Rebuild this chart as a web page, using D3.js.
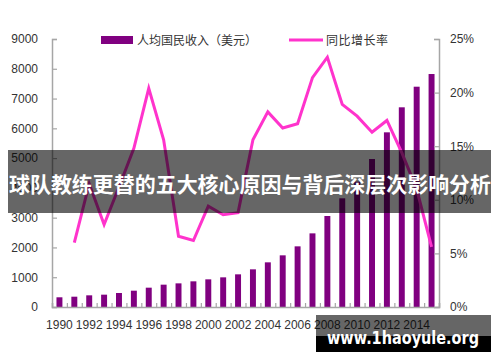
<!DOCTYPE html>
<html>
<head>
<meta charset="utf-8">
<script src="https://cdn.jsdelivr.net/npm/d3@7"></script>
<style>
  body { margin: 0; background: #fff; }
  text { font-family: "Liberation Sans", Arial, sans-serif; }
</style>
</head>
<body>
<div id="chart"></div>
<script>
var width = 500,
    height = 362;

// data
var years = d3.range(1990, 2016);
var income = [326, 346, 392, 414, 470, 548, 649, 750, 794, 862, 929, 996, 1097,
              1265, 1500, 1735, 2037, 2473, 3056, 3650, 4208, 4970, 5866, 6706, 7398, 7824];
// growth rate (%), starts in 1991
var growthYears = d3.range(1991, 2016);
var growth = [6.0, 11.5, 7.7, 11.2, 14.8, 20.4, 15.6, 6.6, 6.2, 9.4, 8.6, 8.8,
              15.6, 18.2, 16.7, 17.1, 21.4, 23.3, 18.9, 17.8, 16.3, 17.4, 14.4, 11.0, 5.6];
var incomeTicks = d3.range(0, 9001, 1000);
var growthTicks = [0, 5, 10, 15, 20, 25];
var yearLabels = d3.range(1990, 2015, 2);

var barColor = "#800080",
    lineColor = "#ff33cc",
    axisColor = "#a6a6a6";

var svg = d3.select("#chart")
      .append("svg")
      .attr("width", width)
      .attr("height", height);

var g = svg.append("g");

var x = d3.scaleBand().domain(years).range([52, 439]).paddingInner(0.6).paddingOuter(0.3);
var yLeft = d3.scaleLinear().domain([0, 9000]).range([307, 39]);
var yRight = d3.scaleLinear().domain([0, 25]).range([307, 39]);
var xEdge = d3.scaleLinear().domain([0, years.length]).range([52, 439]);

// bars
g.selectAll(".bar")
  .data(years)
  .enter().append("rect")
  .attr("class", "bar")
  .attr("x", function(d){ return x(d); })
  .attr("width", x.bandwidth())
  .attr("y", function(d, i){ return yLeft(income[i]); })
  .attr("height", function(d, i){ return yLeft(0) - yLeft(income[i]); })
  .attr("fill", barColor);

// left axis
var leftAxis = g.append("g")
  .attr("transform", "translate(52,0)")
  .call(d3.axisLeft(yLeft).tickValues(incomeTicks).tickSize(-5).tickPadding(14).tickFormat(d3.format("d")));

// right axis
var rightAxis = g.append("g")
  .attr("transform", "translate(439,0)")
  .call(d3.axisRight(yRight).tickValues(growthTicks).tickSize(-5).tickPadding(11).tickFormat(function(d){ return d + "%"; }));

// bottom baseline with year separators
var bottomAxis = g.append("g")
  .attr("transform", "translate(0,307)")
  .call(d3.axisBottom(xEdge).tickValues(d3.range(0, years.length + 1)).tickSize(-4).tickFormat(""));

var labelAxis = g.append("g")
  .attr("transform", "translate(0,307)")
  .call(d3.axisBottom(x).tickValues(yearLabels).tickSize(0).tickPadding(13));
labelAxis.select(".domain").remove();

[leftAxis, rightAxis, bottomAxis].forEach(function(a){
  a.select(".domain").attr("stroke", axisColor).attr("stroke-width", 1.5);
  a.selectAll(".tick line").attr("stroke", axisColor).attr("stroke-width", 1.2);
});
g.selectAll(".tick text")
  .style("font-size", "12px")
  .style("font-family", "'Liberation Sans', Arial, sans-serif")
  .attr("fill", "#333");

// growth line
var line = d3.line()
  .x(function(d, i){ return x(growthYears[i]) + x.bandwidth() / 2; })
  .y(function(d){ return yRight(d); });

g.append("path")
  .datum(growth)
  .attr("d", line)
  .attr("fill", "none")
  .attr("stroke", lineColor)
  .attr("stroke-width", 3)
  .attr("stroke-linejoin", "miter");

// legend
var legend = g.append("g");
legend.append("rect")
  .attr("x", 101).attr("y", 36)
  .attr("width", 32).attr("height", 8)
  .attr("fill", barColor);
legend.append("text")
  .attr("x", 137).attr("y", 44.5)
  .style("font-family", "'Noto Sans CJK SC', sans-serif")
  .style("font-size", "12px")
  .attr("textLength", 120)
  .attr("fill", "#333")
  .text("人均国民收入（美元）");
legend.append("line")
  .attr("x1", 289).attr("x2", 323)
  .attr("y1", 40).attr("y2", 40)
  .attr("stroke", lineColor)
  .attr("stroke-width", 3);
legend.append("text")
  .attr("x", 326).attr("y", 44.5)
  .style("font-family", "'Noto Sans CJK SC', sans-serif")
  .style("font-size", "12px")
  .attr("textLength", 62)
  .attr("fill", "#333")
  .text("同比增长率");

// title banner over the chart
svg.append("rect")
  .attr("x", 8).attr("y", 150)
  .attr("width", 483).attr("height", 63)
  .attr("fill", "rgba(0,0,0,0.6)");
svg.append("text")
  .attr("x", 9).attr("y", 192)
  .style("font-family", "'Noto Sans CJK SC', sans-serif")
  .style("font-size", "21px")
  .style("font-weight", "bold")
  .attr("textLength", 482)
  .attr("lengthAdjust", "spacingAndGlyphs")
  .attr("fill", "#fff")
  .text("球队教练更替的五大核心原因与背后深层次影响分析");

// watermark
svg.append("rect")
  .attr("x", 316).attr("y", 315)
  .attr("width", 175).attr("height", 37)
  .attr("fill", "rgba(0,0,0,0.6)");
svg.append("rect")
  .attr("x", 316).attr("y", 336)
  .attr("width", 175).attr("height", 16)
  .attr("fill", "#000");
svg.append("text")
  .attr("x", 327).attr("y", 344)
  .style("font-family", "'DejaVu Sans', sans-serif")
  .style("font-size", "17px")
  .style("font-weight", "bold")
  .attr("textLength", 152)
  .attr("lengthAdjust", "spacingAndGlyphs")
  .attr("fill", "#fff")
  .text("www.1haoyule.org");
</script>
</body>
</html>
